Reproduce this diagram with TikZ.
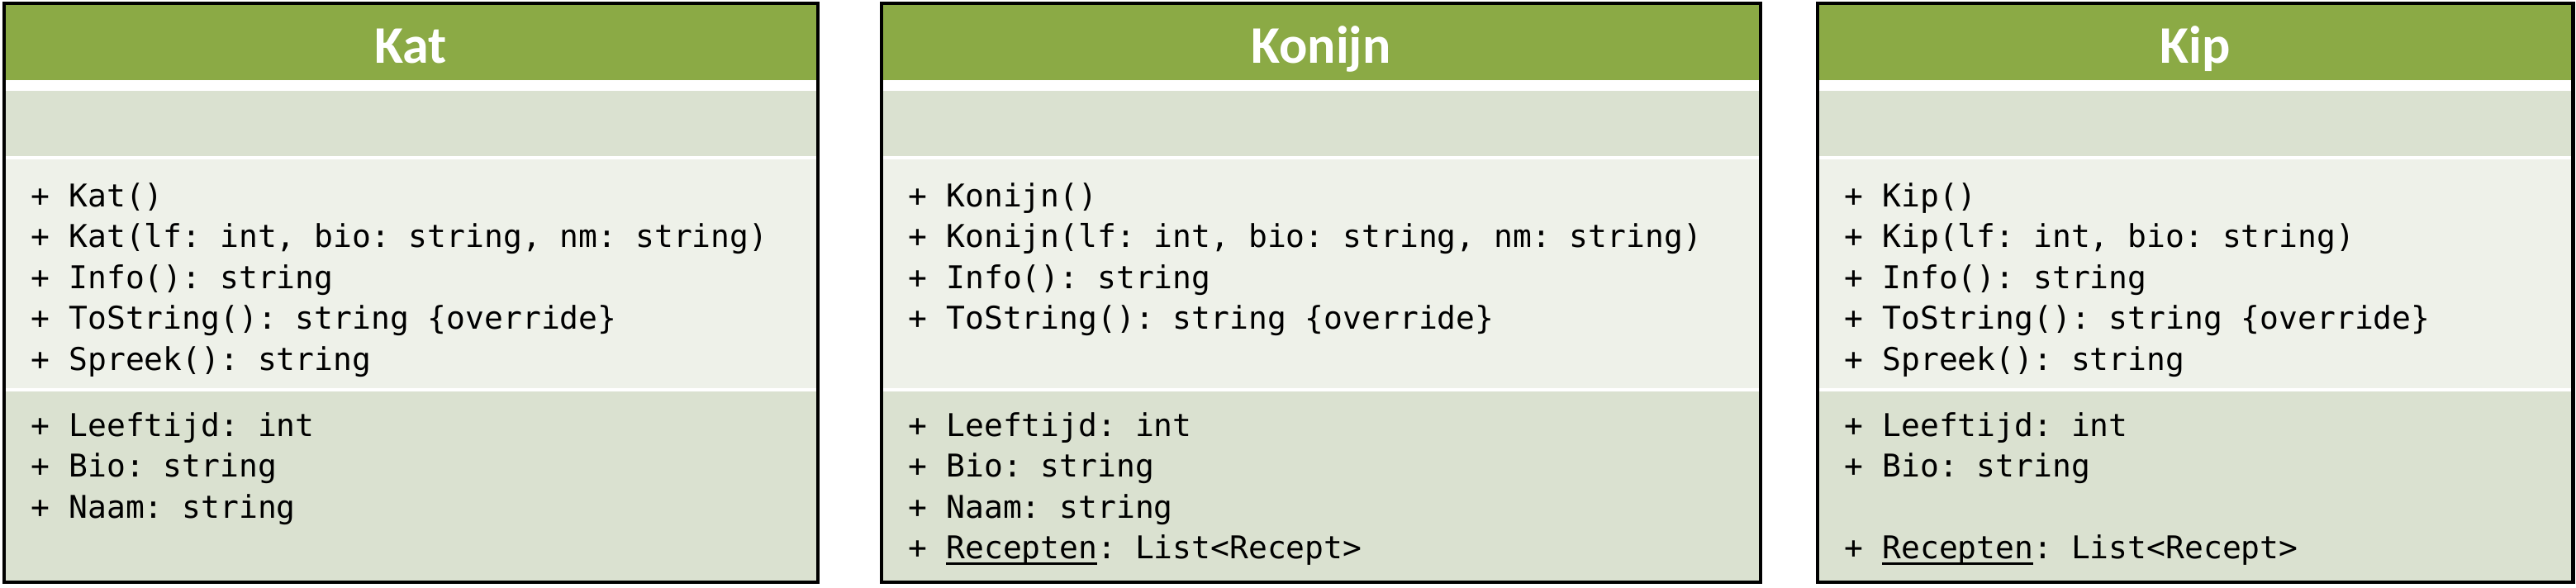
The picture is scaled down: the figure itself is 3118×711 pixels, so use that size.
\documentclass[tikz,border=0pt]{standalone}
\usepackage{fontspec}
\setmonofont{DejaVu Sans Mono}
\newfontfamily\titlefont{Carlito}
\usepackage{tikz}
\usetikzlibrary{positioning}
\definecolor{header}{RGB}{139,170,69}
\definecolor{namebg}{RGB}{218,225,208}
\definecolor{opsbg}{RGB}{238,241,233}
\definecolor{attrbg}{RGB}{218,225,208}
\newcommand{\undl}[1]{\setbox0\hbox{#1}\rlap{\rule[-0.075cm]{\wd0}{0.035cm}}\box0}

\begin{document}
\begin{tikzpicture}[
    x=0.01cm, y=-0.01cm,
    title/.style={anchor=base, inner sep=0, text=white, font=\titlefont\bfseries\fontsize{18.2}{22}\selectfont},
    member/.style={anchor=base west, inner sep=0, font=\ttfamily\fontsize{10.8}{13}\selectfont},
    frame/.style={draw=black, line width=1.4pt}
]
\useasboundingbox (0,0) rectangle (3118,711);

% Compartments of the three classes
\foreach \l/\r in {5/990, 1067/2131, 2200/3114} {
  \fill[header] (\l,4) rectangle (\r,97);
  \fill[namebg] (\l,110) rectangle (\r,189);
  \fill[opsbg] (\l,193) rectangle (\r,470);
  \fill[attrbg] (\l,474) rectangle (\r,705);
  \draw[frame] (\l,4) rectangle (\r,705);
}

% Class names
\node[title] (kat) at (497,76) {Kat};
\node[title] (konijn) at (1599,76) {Konijn};
\node[title] (kip) at (2657,76) {Kip};

% Kat
\foreach \txt [count=\i] in {{+ Kat()}, {+ Kat(lf: int, bio: string, nm: string)}, {+ Info(): string}, {+ ToString(): string \{override\}}, {+ Spreek(): string}}
  \node[member] (katop\i) at (37,{250+49.5*(\i-1)}) {\txt};
\foreach \txt [count=\i] in {{+ Leeftijd: int}, {+ Bio: string}, {+ Naam: string}}
  \node[member] (katat\i) at (37,{528+49.5*(\i-1)}) {\txt};

% Konijn
\foreach \txt [count=\i] in {{+ Konijn()}, {+ Konijn(lf: int, bio: string, nm: string)}, {+ Info(): string}, {+ ToString(): string \{override\}}}
  \node[member] (konop\i) at (1099,{250+49.5*(\i-1)}) {\txt};
\foreach \txt [count=\i] in {{+ Leeftijd: int}, {+ Bio: string}, {+ Naam: string}, {+ \undl{Recepten}: List<Recept>}}
  \node[member] (konat\i) at (1099,{528+49.5*(\i-1)}) {\txt};

% Kip
\foreach \txt [count=\i] in {{+ Kip()}, {+ Kip(lf: int, bio: string)}, {+ Info(): string}, {+ ToString(): string \{override\}}, {+ Spreek(): string}}
  \node[member] (kipop\i) at (2232,{250+49.5*(\i-1)}) {\txt};
\foreach \i/\txt in {1/{+ Leeftijd: int}, 2/{+ Bio: string}, 4/{+ \undl{Recepten}: List<Recept>}}
  \node[member] (kipat\i) at (2232,{528+49.5*(\i-1)}) {\txt};

\end{tikzpicture}
\end{document}
